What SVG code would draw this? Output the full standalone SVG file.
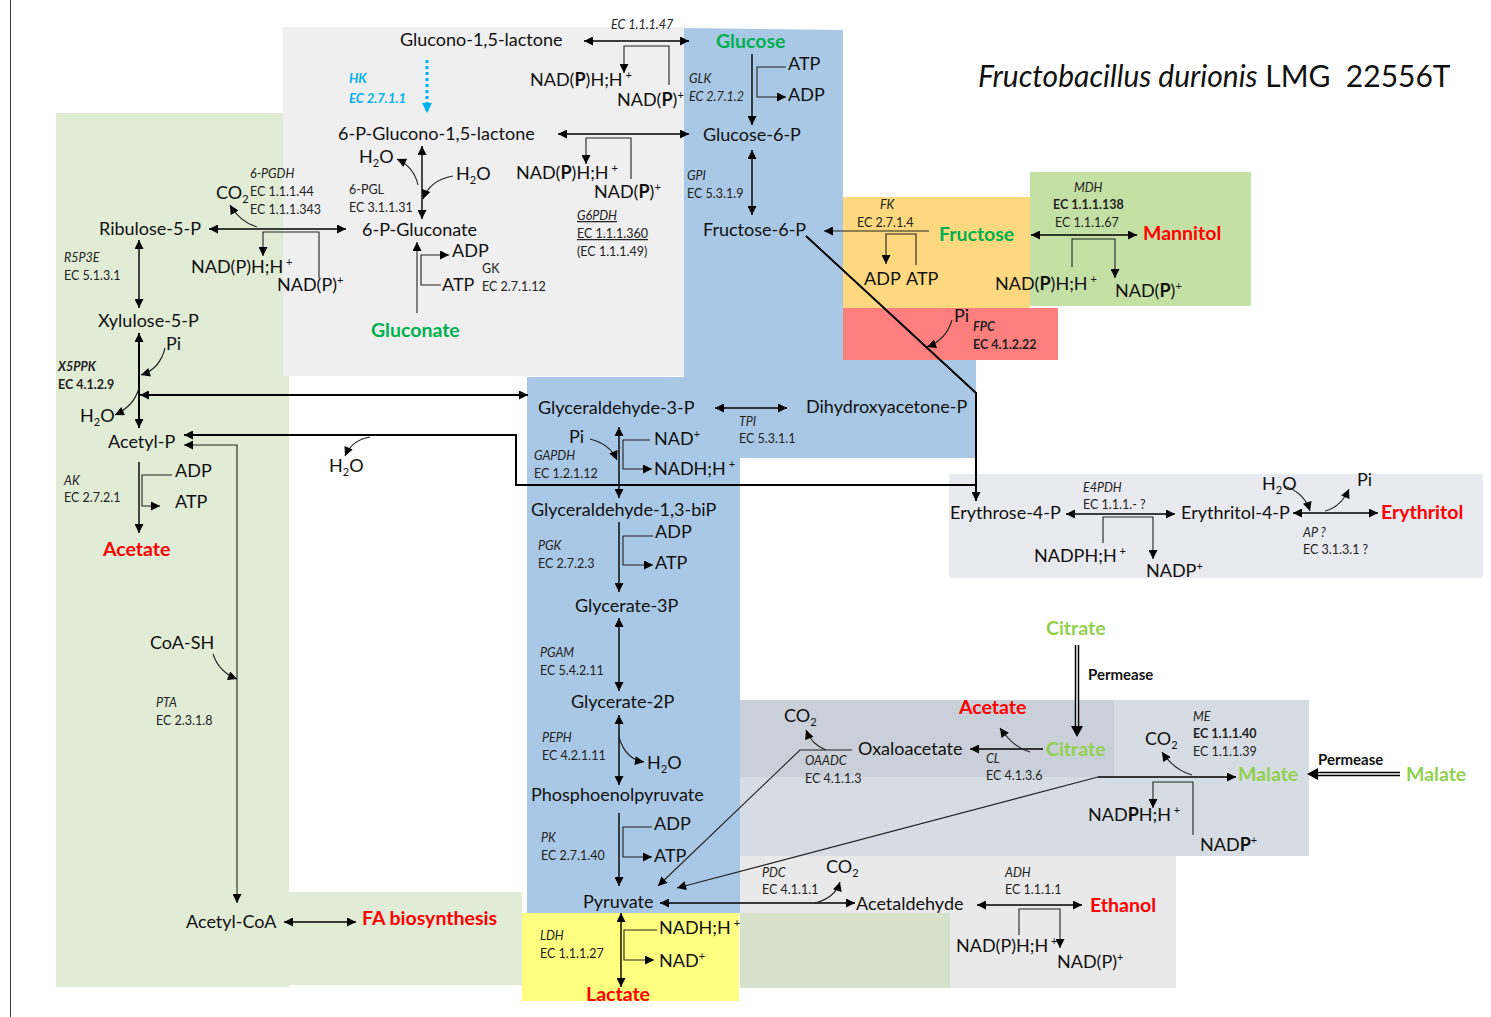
<svg xmlns="http://www.w3.org/2000/svg" width="1491" height="1017" viewBox="0 0 1491 1017">
<style>
text{font-family:Lato,"Liberation Sans",sans-serif;fill:#111}
.m{font-size:18px}
.e{font-size:12.5px;fill:#222}
.i{font-style:italic}
.bd{font-weight:bold}
.p{font-size:19.5px;font-weight:bold}
.g{fill:#00b050}
.lg{fill:#92d050}
.r{fill:#ff0000}
.sp{font-size:11px}
.c{fill:none;stroke:#000;stroke-width:1.4}
.t{fill:none;stroke:#222;stroke-width:1.1}
.k{fill:none;stroke:#000;stroke-width:2}
</style>
<defs>
<marker id="a" viewBox="0 0 10 10" refX="10" refY="5" markerWidth="11" markerHeight="9" markerUnits="userSpaceOnUse" orient="auto-start-reverse"><path d="M0,0 L10,5 L0,10 z" fill="#000"/></marker>
<marker id="ab" viewBox="0 0 10 10" refX="10" refY="5" markerWidth="11" markerHeight="10" markerUnits="userSpaceOnUse" orient="auto"><path d="M0,0 L10,5 L0,10 z" fill="#00b0f0"/></marker>
</defs>
<rect width="1491" height="1017" fill="#fff"/>
<line x1="10.5" y1="0" x2="10.5" y2="1017" stroke="#444" stroke-width="1"/>
<g id="regions">
<rect x="56" y="113" width="233" height="874" fill="#e0ecd6"/>
<rect x="289" y="892" width="233" height="93" fill="#e0ecd6"/>
<rect x="283" y="27" width="401" height="349" fill="#efefef"/>
<polygon points="684,28 843,30 843,360 976,360 976,458 740,458 740,913 527,913 527,377 684,377" fill="#a9c8e6"/>
<rect x="843" y="197" width="187" height="111" fill="#fed87e"/>
<rect x="1030" y="172" width="221" height="134" fill="#c5e0a4"/>
<rect x="843" y="308" width="215" height="52" fill="#ff7e7e"/>
<rect x="949" y="474" width="534" height="104" fill="#e8eaef"/>
<rect x="740" y="700" width="569" height="156" fill="#d5dce4"/>
<rect x="740" y="700" width="374" height="77" fill="#c9d0d9"/>
<rect x="740" y="856" width="436" height="57" fill="#e9e9e9"/>
<rect x="950" y="913" width="226" height="75" fill="#e9e9e9"/>
<rect x="740" y="913" width="210" height="75" fill="#d6e2cc"/>
<rect x="522" y="913" width="217" height="88" fill="#ffff80"/>
</g>
<g id="connectors">
<path class="c" d="M584,41 H689" marker-start="url(#a)" marker-end="url(#a)"/>
<path class="t" d="M669,85 V46 H624 V73" marker-end="url(#a)"/>
<path d="M427,60 V113" fill="none" stroke="#00b0f0" stroke-width="3" stroke-dasharray="3,3" marker-end="url(#ab)"/>
<path class="c" d="M558,134 H689" marker-start="url(#a)" marker-end="url(#a)"/>
<path class="t" d="M631,179 V138 H586 V164" marker-end="url(#a)"/>
<path class="c" d="M422,146 V219" marker-start="url(#a)" marker-end="url(#a)"/>
<path class="t" d="M418,185 Q414,167 397,159" marker-end="url(#a)"/>
<path class="t" d="M453,176 Q430,180 423,199" marker-end="url(#a)"/>
<path class="t" d="M417,313 V242" marker-end="url(#a)"/>
<path class="t" d="M441,285 H421 V255 H449" marker-end="url(#a)"/>
<path class="c" d="M752,54 V125" marker-end="url(#a)"/>
<path class="t" d="M786,67 H757 V97 H786" marker-end="url(#a)"/>
<path class="c" d="M752,150 V215" marker-start="url(#a)" marker-end="url(#a)"/>
<path class="t" d="M929,231 H824" marker-end="url(#a)"/>
<path class="t" d="M916,265 V234 H886 V264" marker-end="url(#a)"/>
<path class="c" d="M1031,235 H1137" marker-start="url(#a)" marker-end="url(#a)"/>
<path class="t" d="M1072,267 V239 H1115 V278" marker-end="url(#a)"/>
<path class="k" d="M806,236 L976,393 V501" marker-end="url(#a)"/>
<path class="t" d="M952,320 Q946,340 927,347" marker-end="url(#a)"/>
<path class="k" d="M140,395 H528" marker-start="url(#a)" marker-end="url(#a)"/>
<path class="c" d="M715,408 H787" marker-start="url(#a)" marker-end="url(#a)"/>
<path class="c" d="M619,427 V498" marker-start="url(#a)" marker-end="url(#a)"/>
<path class="t" d="M590,439 Q610,444 617,460" marker-end="url(#a)"/>
<path class="t" d="M650,440 H623 V469 H652" marker-end="url(#a)"/>
<path class="k" d="M976,485 H516 V435 H184" marker-end="url(#a)"/>
<path class="t" d="M237,903 V445 H184" marker-start="url(#a)" marker-end="url(#a)"/>
<path class="t" d="M370,437 Q352,440 345,456" marker-end="url(#a)"/>
<path class="c" d="M619,522 V592" marker-end="url(#a)"/>
<path class="t" d="M653,536 H623 V565 H653" marker-end="url(#a)"/>
<path class="c" d="M619,618 V691" marker-start="url(#a)" marker-end="url(#a)"/>
<path class="c" d="M619,715 V785" marker-start="url(#a)" marker-end="url(#a)"/>
<path class="t" d="M619,737 Q625,759 644,762" marker-end="url(#a)"/>
<path class="c" d="M619,813 V886" marker-end="url(#a)"/>
<path class="t" d="M652,827 H623 V857 H652" marker-end="url(#a)"/>
<path class="c" d="M621,913 V987" marker-start="url(#a)" marker-end="url(#a)"/>
<path class="t" d="M657,930 H624 V960 H654" marker-end="url(#a)"/>
<path class="c" d="M209,229 H346" marker-start="url(#a)" marker-end="url(#a)"/>
<path class="t" d="M257,227 Q240,222 230,205" marker-end="url(#a)"/>
<path class="t" d="M319,278 V232 H263 V256" marker-end="url(#a)"/>
<path class="c" d="M139,240 V308" marker-start="url(#a)" marker-end="url(#a)"/>
<path class="k" d="M139,333 V428" marker-start="url(#a)" marker-end="url(#a)"/>
<path class="t" d="M165,348 Q160,369 141,375" marker-end="url(#a)"/>
<path class="t" d="M139,388 Q134,406 115,415" marker-end="url(#a)"/>
<path class="c" d="M139,462 V533" marker-end="url(#a)"/>
<path class="t" d="M172,475 H142 V506 H160" marker-end="url(#a)"/>
<path class="t" d="M213,654 Q219,672 237,679" marker-end="url(#a)"/>
<path class="c" d="M284,922 H356" marker-start="url(#a)" marker-end="url(#a)"/>
<path class="c" d="M1066,514 H1175" marker-start="url(#a)" marker-end="url(#a)"/>
<path class="t" d="M1103,543 V517 H1153 V559" marker-end="url(#a)"/>
<path class="c" d="M1293,513 H1378" marker-start="url(#a)" marker-end="url(#a)"/>
<path class="t" d="M1284,486 Q1304,492 1310,511" marker-end="url(#a)"/>
<path class="t" d="M1325,511 Q1341,507 1349,489" marker-end="url(#a)"/>
<path d="M1077,645 V728" fill="none" stroke="#000" stroke-width="4.5"/>
<path d="M1077,645 V729" fill="none" stroke="#fff" stroke-width="1.5"/>
<polygon points="1071,726 1083,726 1077,737" fill="#000"/>
<path class="c" d="M1043,749 H970" marker-end="url(#a)"/>
<path class="t" d="M1030,752 Q1014,748 1000,728" marker-end="url(#a)"/>
<path class="t" d="M852,750 H800 L658,886" marker-end="url(#a)"/>
<path class="t" d="M826,750 Q812,745 806,730" marker-end="url(#a)"/>
<path class="c" d="M1098,777 H1236" marker-end="url(#a)"/>
<path class="t" d="M1098,777 L677,888" marker-end="url(#a)"/>
<path class="t" d="M1192,775 Q1174,770 1162,752" marker-end="url(#a)"/>
<path class="t" d="M1193,835 V782 H1153 V808" marker-end="url(#a)"/>
<path d="M1400,774 H1316" fill="none" stroke="#000" stroke-width="4.5"/>
<path d="M1401,774 H1315" fill="none" stroke="#fff" stroke-width="1.5"/>
<polygon points="1318,768 1318,780 1307,774" fill="#000"/>
<path class="c" d="M660,903 H855" marker-start="url(#a)" marker-end="url(#a)"/>
<path class="t" d="M815,903 Q835,898 840,882" marker-end="url(#a)"/>
<path class="c" d="M977,905 H1082" marker-start="url(#a)" marker-end="url(#a)"/>
<path class="t" d="M1019,935 V909 H1060 V948" marker-end="url(#a)"/>
</g>
<g id="title"><text x="978" y="87" font-size="30"><tspan font-style="italic">Fructobacillus durionis</tspan> LMG&#160; 22556T</text></g>
<g id="n-glucono"><text class="m" x="400" y="46">Glucono-1,5-lactone</text><text class="e i" x="611" y="29">EC 1.1.1.47</text>
<text class="m" x="530" y="86">NAD(<tspan class="bd">P</tspan>)H;H<tspan class="sp" dy="-7"> +</tspan></text>
<text class="m" x="617" y="106">NAD(<tspan class="bd">P</tspan>)<tspan class="sp" dy="-7">+</tspan></text></g>
<g id="n-hk"><text class="e i bd" x="349" y="83" style="fill:#00b0f0;font-size:13px">HK</text><text class="e i bd" x="349" y="103" style="fill:#00b0f0;font-size:13px">EC 2.7.1.1</text></g>
<g id="n-6pgl"><text class="m" x="338" y="140">6-P-Glucono-1,5-lactone</text>
<text class="m" x="359" y="163">H<tspan class="sp" dy="4">2</tspan><tspan dy="-4">O</tspan></text>
<text class="m" x="456" y="180">H<tspan class="sp" dy="4">2</tspan><tspan dy="-4">O</tspan></text>
<text class="m" x="516" y="179">NAD(<tspan class="bd">P</tspan>)H;H<tspan class="sp" dy="-7"> +</tspan></text>
<text class="m" x="594" y="198">NAD(<tspan class="bd">P</tspan>)<tspan class="sp" dy="-7">+</tspan></text>
<text class="e" x="349" y="194">6-PGL</text><text class="e" x="349" y="212">EC 3.1.1.31</text>
<text class="e i" x="577" y="220" text-decoration="underline">G6PDH</text><text class="e" x="577" y="238" text-decoration="underline">EC 1.1.1.360</text><text class="e" x="577" y="256">(EC 1.1.1.49)</text></g>
<g id="n-6pgluconate"><text class="m" x="362" y="236">6-P-Gluconate</text>
<text class="m" x="452" y="257">ADP</text><text class="m" x="442" y="291">ATP</text>
<text class="e" x="482" y="273">GK</text><text class="e" x="482" y="291">EC 2.7.1.12</text>
<text class="p g" x="371" y="337">Gluconate</text></g>
<g id="n-glucose"><text class="p g" x="716" y="48">Glucose</text>
<text class="m" x="788" y="70">ATP</text><text class="m" x="788" y="101">ADP</text>
<text class="e i" x="689" y="83">GLK</text><text class="e i" x="689" y="101">EC 2.7.1.2</text></g>
<g id="n-g6p"><text class="m" x="703" y="141">Glucose-6-P</text><text class="e i" x="687" y="180">GPI</text><text class="e" x="687" y="198">EC 5.3.1.9</text></g>
<g id="n-f6p"><text class="m" x="703" y="236">Fructose-6-P</text></g>
<g id="n-fructose"><text class="e i" x="880" y="209">FK</text><text class="e" x="857" y="227">EC 2.7.1.4</text>
<text class="p g" x="939" y="241">Fructose</text>
<text class="m" x="864" y="285">ADP</text><text class="m" x="906" y="285">ATP</text></g>
<g id="n-mannitol"><text class="e i" x="1074" y="192">MDH</text><text class="e bd" x="1053" y="209">EC 1.1.1.138</text><text class="e" x="1055" y="227">EC 1.1.1.67</text>
<text class="p r" x="1143" y="240">Mannitol</text>
<text class="m" x="995" y="290">NAD(<tspan class="bd">P</tspan>)H;H<tspan class="sp" dy="-7"> +</tspan></text>
<text class="m" x="1115" y="297">NAD(<tspan class="bd">P</tspan>)<tspan class="sp" dy="-7">+</tspan></text></g>
<g id="n-fpc"><text class="m" x="954" y="322">Pi</text><text class="e i bd" x="973" y="331">FPC</text><text class="e bd" x="973" y="349">EC 4.1.2.22</text></g>
<g id="n-ribulose"><text class="m" x="99" y="235">Ribulose-5-P</text>
<text class="m" x="216" y="199">CO<tspan class="sp" dy="4">2</tspan></text>
<text class="e i" x="250" y="178">6-PGDH</text><text class="e" x="250" y="196">EC 1.1.1.44</text><text class="e" x="250" y="214">EC 1.1.1.343</text>
<text class="m" x="191" y="273">NAD(P)H;H<tspan class="sp" dy="-7"> +</tspan></text>
<text class="m" x="277" y="291">NAD(P)<tspan class="sp" dy="-7">+</tspan></text>
<text class="e i" x="64" y="262">R5P3E</text><text class="e" x="64" y="280">EC 5.1.3.1</text></g>
<g id="n-xylulose"><text class="m" x="98" y="327">Xylulose-5-P</text><text class="m" x="166" y="350">Pi</text>
<text class="e i bd" x="58" y="371">X5PPK</text><text class="e bd" x="58" y="389">EC 4.1.2.9</text>
<text class="m" x="80" y="422">H<tspan class="sp" dy="4">2</tspan><tspan dy="-4">O</tspan></text></g>
<g id="n-acetylp"><text class="m" x="108" y="448">Acetyl-P</text>
<text class="m" x="175" y="477">ADP</text><text class="m" x="175" y="508">ATP</text>
<text class="e i" x="64" y="485">AK</text><text class="e" x="64" y="502">EC 2.7.2.1</text>
<text class="p r" x="103" y="556">Acetate</text>
<text class="m" x="329" y="472">H<tspan class="sp" dy="4">2</tspan><tspan dy="-4">O</tspan></text></g>
<g id="n-acetylcoa"><text class="m" x="150" y="649">CoA-SH</text><text class="e i" x="156" y="707">PTA</text><text class="e" x="156" y="725">EC 2.3.1.8</text>
<text class="m" x="186" y="928">Acetyl-CoA</text><text class="p r" x="362" y="925">FA biosynthesis</text></g>
<g id="n-g3p"><text class="m" x="538" y="414">Glyceraldehyde-3-P</text>
<text class="e i" x="739" y="426">TPI</text><text class="e" x="739" y="443">EC 5.3.1.1</text>
<text class="m" x="806" y="413">Dihydroxyacetone-P</text>
<text class="m" x="569" y="443">Pi</text>
<text class="m" x="654" y="445">NAD<tspan class="sp" dy="-7">+</tspan></text>
<text class="m" x="654" y="475">NADH;H<tspan class="sp" dy="-7"> +</tspan></text>
<text class="e i" x="534" y="460">GAPDH</text><text class="e" x="534" y="478">EC 1.2.1.12</text></g>
<g id="n-g13bp"><text class="m" x="531" y="516">Glyceraldehyde-1,3-biP</text>
<text class="m" x="655" y="538">ADP</text><text class="m" x="655" y="569">ATP</text>
<text class="e i" x="538" y="550">PGK</text><text class="e" x="538" y="568">EC 2.7.2.3</text></g>
<g id="n-gly3p"><text class="m" x="575" y="612">Glycerate-3P</text><text class="e i" x="540" y="657">PGAM</text><text class="e" x="540" y="675">EC 5.4.2.11</text></g>
<g id="n-gly2p"><text class="m" x="571" y="708">Glycerate-2P</text><text class="e i" x="542" y="742">PEPH</text><text class="e" x="542" y="760">EC 4.2.1.11</text>
<text class="m" x="647" y="769">H<tspan class="sp" dy="4">2</tspan><tspan dy="-4">O</tspan></text></g>
<g id="n-pep"><text class="m" x="531" y="801">Phosphoenolpyruvate</text>
<text class="m" x="654" y="830">ADP</text><text class="m" x="654" y="862">ATP</text>
<text class="e i" x="541" y="842">PK</text><text class="e" x="541" y="860">EC 2.7.1.40</text></g>
<g id="n-pyruvate"><text class="m" x="583" y="908">Pyruvate</text>
<text class="m" x="659" y="934">NADH;H<tspan class="sp" dy="-7"> +</tspan></text>
<text class="m" x="659" y="967">NAD<tspan class="sp" dy="-7">+</tspan></text>
<text class="e i" x="540" y="940">LDH</text><text class="e" x="540" y="958">EC 1.1.1.27</text>
<text class="p r" x="586" y="1001">Lactate</text></g>
<g id="n-erythrose"><text class="m" x="950" y="519">Erythrose-4-P</text>
<text class="e i" x="1083" y="492">E4PDH</text><text class="e" x="1083" y="509">EC 1.1.1.- ?</text>
<text class="m" x="1034" y="562">NADPH;H<tspan class="sp" dy="-7"> +</tspan></text>
<text class="m" x="1146" y="577">NADP<tspan class="sp" dy="-7">+</tspan></text>
<text class="m" x="1181" y="519">Erythritol-4-P</text>
<text class="m" x="1262" y="490">H<tspan class="sp" dy="4">2</tspan><tspan dy="-4">O</tspan></text>
<text class="m" x="1357" y="486">Pi</text>
<text class="e i" x="1303" y="537">AP ?</text><text class="e" x="1303" y="554">EC 3.1.3.1 ?</text>
<text class="p r" x="1381" y="519">Erythritol</text></g>
<g id="n-citrate"><text class="p lg" x="1046" y="635">Citrate</text>
<text class="bd" x="1088" y="680" font-size="15" fill="#222">Permease</text>
<text class="p r" x="959" y="714">Acetate</text>
<text class="m" x="784" y="722">CO<tspan class="sp" dy="4">2</tspan></text>
<text class="m" x="858" y="755">Oxaloacetate</text>
<text class="p lg" x="1046" y="756">Citrate</text>
<text class="e i" x="986" y="763">CL</text><text class="e" x="986" y="780">EC 4.1.3.6</text>
<text class="e i" x="805" y="765">OAADC</text><text class="e" x="805" y="783">EC 4.1.1.3</text></g>
<g id="n-malate"><text class="e i" x="1193" y="721">ME</text><text class="e bd" x="1193" y="738">EC 1.1.1.40</text><text class="e" x="1193" y="756">EC 1.1.1.39</text>
<text class="m" x="1145" y="745">CO<tspan class="sp" dy="4">2</tspan></text>
<text class="p lg" x="1238" y="781">Malate</text>
<text class="bd" x="1318" y="765" font-size="15" fill="#222">Permease</text>
<text class="p lg" x="1406" y="781">Malate</text>
<text class="m" x="1088" y="821">NAD<tspan class="bd">P</tspan>H;H<tspan class="sp" dy="-7"> +</tspan></text>
<text class="m" x="1200" y="851">NAD<tspan class="bd">P</tspan><tspan class="sp" dy="-7">+</tspan></text></g>
<g id="n-acetaldehyde"><text class="e i" x="762" y="877">PDC</text><text class="e" x="762" y="894">EC 4.1.1.1</text>
<text class="m" x="826" y="873">CO<tspan class="sp" dy="4">2</tspan></text>
<text class="m" x="856" y="910">Acetaldehyde</text>
<text class="e i" x="1005" y="877">ADH</text><text class="e" x="1005" y="894">EC 1.1.1.1</text>
<text class="m" x="956" y="952">NAD(P)H;H<tspan class="sp" dy="-7"> +</tspan></text>
<text class="m" x="1057" y="968">NAD(P)<tspan class="sp" dy="-7">+</tspan></text>
<text class="p r" x="1090" y="912">Ethanol</text></g>
</svg>
